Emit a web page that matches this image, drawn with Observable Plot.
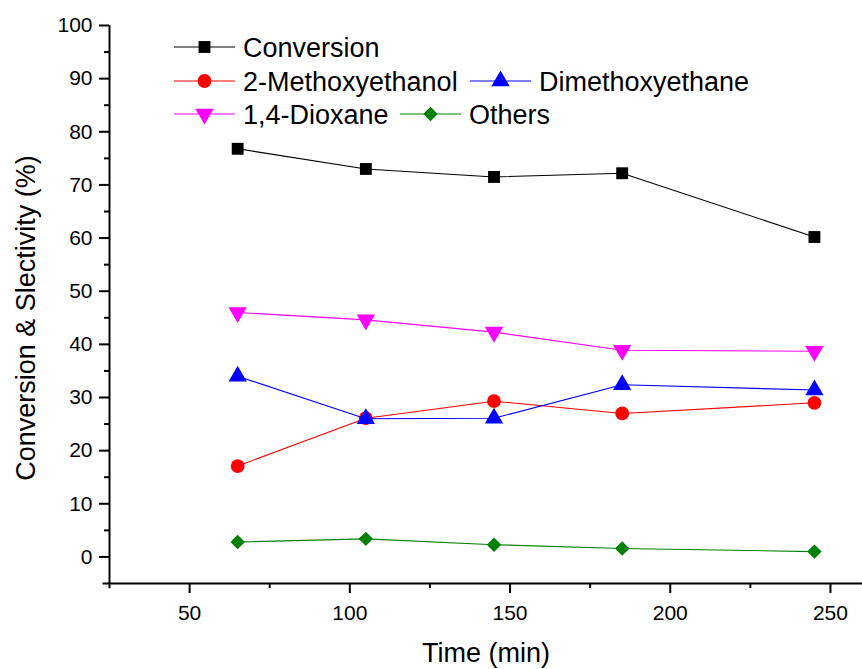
<!DOCTYPE html>
<html>
<head>
<meta charset="utf-8">
<script src="https://cdn.jsdelivr.net/npm/d3@7"></script>
<script src="https://cdn.jsdelivr.net/npm/@observablehq/plot@0.6"></script>
<style>
  html, body { margin: 0; padding: 0; background: #fff; }
  #chart { position: relative; width: 862px; height: 669px; }
  svg { font-family: "Liberation Sans", Arial, sans-serif; }
</style>
</head>
<body>
<div id="chart"></div>
<script>
// ---- data ----
const times = [65, 105, 145, 185, 245];
const conversion = [76.8, 73.0, 71.5, 72.2, 60.2];
const methoxyethanol = [17.1, 26.1, 29.3, 27.0, 29.0];
const dimethoxyethane = [34.0, 26.0, 26.1, 32.4, 31.4];
const dioxane = [46.0, 44.6, 42.3, 38.9, 38.7];
const others = [2.8, 3.4, 2.3, 1.6, 1.0];
const seriesNames = ["Conversion", "2-Methoxyethanol", "Dimethoxyethane", "1,4-Dioxane", "Others"];
const seriesValues = [conversion, methoxyethanol, dimethoxyethane, dioxane, others];
const xTicks = [50, 100, 150, 200, 250];
const xMinorTicks = [75, 125, 175, 225];
const yTicks = [0, 10, 20, 30, 40, 50, 60, 70, 80, 90, 100];
const yMinorTicks = [5, 15, 25, 35, 45, 55, 65, 75, 85, 95];
const xDomain = [25, 260];
const yDomain = [-5, 100];

// ---- styles ----
const styles = {
  "Conversion":       {color: "#000000", symbol: "square",   rotate: 0,   r: 6.7},
  "2-Methoxyethanol": {color: "#ff0000", symbol: "circle",   rotate: 0,   r: 6.9},
  "Dimethoxyethane":  {color: "#0000ff", symbol: "triangle", rotate: 0,   r: 6.8},
  "1,4-Dioxane":      {color: "#ff00ff", symbol: "triangle", rotate: 180, r: 6.8},
  "Others":           {color: "#008000", symbol: "diamond2", rotate: 0,   r: 6.5}
};

const rows = [];
seriesNames.forEach((name, i) => {
  times.forEach((t, j) => rows.push({series: name, time: t, value: seriesValues[i][j]}));
});

const marks = [];
for (const name of seriesNames) {
  const d = rows.filter(r => r.series === name);
  const s = styles[name];
  marks.push(Plot.line(d, {x: "time", y: "value", stroke: s.color, strokeWidth: 1.1}));
  marks.push(Plot.dot(d, {x: "time", y: "value", fill: s.color, stroke: "none",
    symbol: () => s.symbol, r: s.r, rotate: s.rotate}));
}

const fontSize = 21;
const chart = Plot.plot({
  width: 862,
  height: 669,
  marginLeft: 109,
  marginRight: 0,
  marginTop: 25,
  marginBottom: 86,
  style: {fontFamily: "Liberation Sans, Arial, sans-serif", fontSize: fontSize + "px", color: "#000", background: "#fff"},
  x: {domain: xDomain},
  y: {domain: yDomain},
  marks: [
    Plot.ruleX([xDomain[0]], {stroke: "#000", strokeWidth: 2, y1: yDomain[0] - 1, y2: yDomain[1]}),
    Plot.ruleY([yDomain[0]], {stroke: "#000", strokeWidth: 2, x1: xDomain[0] - 2, x2: xDomain[1]}),
    Plot.axisX({ticks: xTicks, tickSize: 10, tickPadding: 12, strokeWidth: 2, tickFormat: d => String(d), fontSize: fontSize,
      label: null}),
    Plot.axisX({ticks: xMinorTicks, tickSize: 5, strokeWidth: 2, text: null, label: null}),
    Plot.axisY({ticks: yTicks, tickSize: 10, tickPadding: 7, strokeWidth: 2, tickFormat: d => String(d), fontSize: fontSize,
      label: null}),
    Plot.axisY({ticks: yMinorTicks, tickSize: 5, strokeWidth: 2, text: null, label: null}),
    ...marks
  ]
});

document.getElementById("chart").appendChild(chart);

const svg = d3.select(chart);

// X axis title
svg.append("text")
  .attr("x", 486).attr("y", 653).attr("dy", "0.35em")
  .attr("text-anchor", "middle")
  .attr("font-size", 27)
  .attr("fill", "#000")
  .text("Time (min)");

// Y axis title
svg.append("text")
  .attr("transform", "translate(35,318) rotate(-90)")
  .attr("text-anchor", "middle")
  .attr("font-size", 27)
  .attr("fill", "#000")
  .text("Conversion & Slectivity (%)");

// Legend
const legendItems = [
  {name: "Conversion", x: 174, y: 47},
  {name: "2-Methoxyethanol", x: 174, y: 81},
  {name: "Dimethoxyethane", x: 470, y: 81},
  {name: "1,4-Dioxane", x: 174, y: 114},
  {name: "Others", x: 400, y: 114}
];
const symMap = {square: d3.symbolSquare, circle: d3.symbolCircle, triangle: d3.symbolTriangle, diamond2: d3.symbolDiamond2};
const lg = svg.append("g");
for (const it of legendItems) {
  const s = styles[it.name];
  const g = lg.append("g").attr("transform", `translate(${it.x},${it.y})`);
  g.append("line").attr("x1", 0).attr("x2", 61).attr("y1", 0).attr("y2", 0)
    .attr("stroke", s.color).attr("stroke-width", 1.1);
  g.append("path")
    .attr("d", d3.symbol(symMap[s.symbol], Math.PI * s.r * s.r)())
    .attr("transform", `translate(30.5,0) rotate(${s.rotate})`)
    .attr("fill", s.color);
  g.append("text").attr("x", 69).attr("y", 0).attr("dy", "0.36em")
    .attr("text-anchor", "start")
    .attr("font-size", 27).attr("fill", "#000").text(it.name);
}
</script>
</body>
</html>
